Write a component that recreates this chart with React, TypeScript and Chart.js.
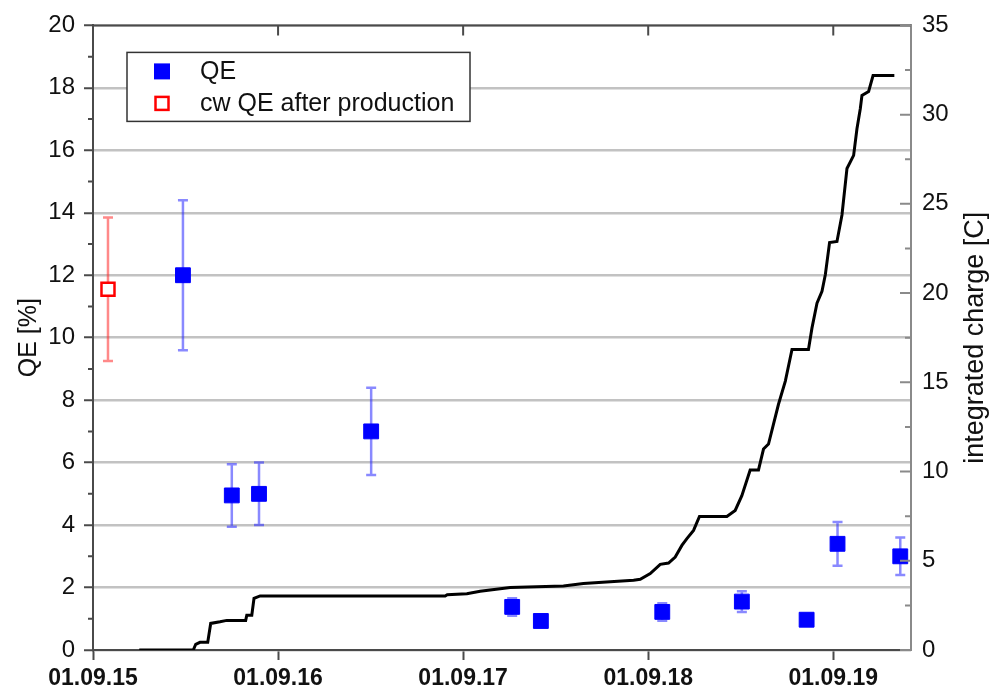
import { useEffect, useRef } from 'react';
import { Chart, registerables } from 'chart.js';

Chart.register(...registerables);

// Date axis: values are years after 01.09.2015
const xTickLabels = ['01.09.15', '01.09.16', '01.09.17', '01.09.18', '01.09.19'];
const xMax = 4.42;

// Quantum efficiency measurements [%] with uncertainties
const qeTime = [0.486, 0.75, 0.897, 1.503, 2.265, 2.42, 3.076, 3.506, 3.856, 4.023, 4.362];
const qeValue = [12.0, 4.95, 5.0, 7.0, 1.38, 0.93, 1.22, 1.55, 0.97, 3.4, 3.0];
const qeError = [2.4, 1.0, 1.0, 1.4, 0.28, 0.1, 0.28, 0.33, 0.1, 0.7, 0.6];

// cw QE measured right after cathode production
const cwTime = [0.081];
const cwValue = [11.55];
const cwError = [2.3];

// Integrated extracted charge [C]
const chargeTime = [
  0.25, 0.542, 0.555, 0.578, 0.62, 0.636, 0.686, 0.723, 0.825, 0.831,
  0.858, 0.87, 0.903, 1.903, 1.914, 2.02, 2.092, 2.254, 2.542, 2.65,
  2.795, 2.921, 2.957, 3.011, 3.065, 3.11, 3.146, 3.182, 3.209, 3.245,
  3.277, 3.425, 3.47, 3.506, 3.551, 3.596, 3.623, 3.65, 3.677, 3.704,
  3.741, 3.777, 3.866, 3.885, 3.912, 3.939, 3.957, 3.98, 4.02, 4.047,
  4.074, 4.11, 4.128, 4.146, 4.155, 4.191, 4.215, 4.33,
];
const chargeValue = [
  0, 0, 0.32, 0.43, 0.43, 1.49, 1.58, 1.66, 1.66, 1.95,
  1.95, 2.89, 3.03, 3.03, 3.1, 3.15, 3.29, 3.5, 3.59, 3.72,
  3.83, 3.91, 3.96, 4.28, 4.8, 4.87, 5.21, 5.86, 6.24, 6.7,
  7.48, 7.48, 7.82, 8.65, 10.09, 10.09, 11.26, 11.54, 12.66, 13.77,
  15.07, 16.84, 16.84, 18.05, 19.44, 20.1, 21.03, 22.83, 22.89, 24.38,
  26.98, 27.72, 29.21, 30.33, 31.08, 31.3, 32.19, 32.19,
];

const FONT = "'Liberation Sans', Arial, Helvetica, sans-serif";
const AXIS_DARK = '#4a4a4a';
const AXIS_GRAY = '#8a8a8a';

const toPoints = (xs: number[], ys: number[]) => xs.map((x, i) => ({ x, y: ys[i] }));

// Vertical error bars with caps, drawn under the markers
const errorBarPlugin = {
  id: 'errorBars',
  beforeDatasetsDraw(chart: any) {
    const { ctx } = chart;
    chart.data.datasets.forEach((ds: any, i: number) => {
      if (!ds.errors) return;
      const meta = chart.getDatasetMeta(i);
      const xs = chart.scales[meta.xAxisID];
      const ys = chart.scales[meta.yAxisID];
      ctx.save();
      ctx.strokeStyle = ds.errorColor;
      ctx.lineWidth = 2.5;
      ds.data.forEach((p: any, j: number) => {
        const e = ds.errors[j];
        const x = xs.getPixelForValue(p.x);
        const yHi = ys.getPixelForValue(p.y + e);
        const yLo = ys.getPixelForValue(p.y - e);
        ctx.beginPath();
        ctx.moveTo(x, yHi);
        ctx.lineTo(x, yLo);
        ctx.moveTo(x - 5, yHi);
        ctx.lineTo(x + 5, yHi);
        ctx.moveTo(x - 5, yLo);
        ctx.lineTo(x + 5, yLo);
        ctx.stroke();
      });
      ctx.restore();
    });
  },
};

// Frame details: top border, inward/minor ticks, right-hand title, boxed legend
const framePlugin = {
  id: 'frame',
  afterDraw(chart: any) {
    const { ctx, chartArea } = chart;
    const { left, right, top, bottom } = chartArea;
    const x = chart.scales.x;
    const y = chart.scales.y;
    const y2 = chart.scales.y2;
    ctx.save();
    ctx.lineCap = 'butt';

    // top border with inward date ticks
    ctx.strokeStyle = AXIS_DARK;
    ctx.lineWidth = 2;
    ctx.beginPath();
    ctx.moveTo(left, top);
    ctx.lineTo(right, top);
    for (let i = 1; i < xTickLabels.length; i++) {
      const px = x.getPixelForValue(i);
      ctx.moveTo(px, top);
      ctx.lineTo(px, top + 10);
    }
    ctx.stroke();

    // minor ticks on the QE axis (outward)
    ctx.beginPath();
    for (let v = 1; v < 20; v += 2) {
      const py = y.getPixelForValue(v);
      ctx.moveTo(left, py);
      ctx.lineTo(left - 5, py);
    }
    ctx.stroke();

    // inward ticks on the charge axis
    ctx.strokeStyle = AXIS_GRAY;
    ctx.beginPath();
    for (let v = 0; v <= 35; v += 2.5) {
      const py = y2.getPixelForValue(v);
      const len = v % 5 === 0 ? 11 : 6;
      ctx.moveTo(right, py);
      ctx.lineTo(right - len, py);
    }
    ctx.stroke();

    // right-hand axis title, reading upwards
    ctx.translate(976, (top + bottom) / 2);
    ctx.rotate(-Math.PI / 2);
    ctx.fillStyle = '#111';
    ctx.font = `27px ${FONT}`;
    ctx.textAlign = 'center';
    ctx.textBaseline = 'middle';
    ctx.fillText('integrated charge [C]', 0, 0);
    ctx.restore();

    // legend box
    ctx.save();
    const lx = left + 34;
    const ly = top + 27;
    const lw = 343;
    const lh = 69;
    ctx.fillStyle = '#fff';
    ctx.fillRect(lx, ly, lw, lh);
    ctx.strokeStyle = '#333';
    ctx.lineWidth = 1.5;
    ctx.strokeRect(lx, ly, lw, lh);
    const items = chart.data.datasets.filter((d: any) => d.inLegend);
    items.forEach((ds: any, i: number) => {
      const cy = ly + 19 + i * 32;
      const cx = lx + 35;
      if (ds.backgroundColor === '#ffffff') {
        ctx.fillStyle = '#fff';
        ctx.fillRect(cx - 7, cy - 7, 14, 14);
        ctx.strokeStyle = ds.borderColor;
        ctx.lineWidth = 2.5;
        ctx.strokeRect(cx - 6.5, cy - 6.5, 13, 13);
      } else {
        ctx.fillStyle = ds.backgroundColor;
        ctx.fillRect(cx - 8, cy - 8, 16, 16);
      }
      ctx.fillStyle = '#111';
      ctx.font = `25px ${FONT}`;
      ctx.textAlign = 'left';
      ctx.textBaseline = 'middle';
      ctx.fillText(ds.label, lx + 73, cy + 1);
    });
    ctx.restore();
  },
};

export default function App() {
  const canvasRef = useRef<HTMLCanvasElement | null>(null);

  useEffect(() => {
    const canvas = canvasRef.current;
    if (!canvas) return;

    const chart = new Chart(canvas, {
      type: 'scatter',
      data: {
        datasets: [
          {
            label: 'QE',
            data: toPoints(qeTime, qeValue),
            errors: qeError,
            errorColor: 'rgba(40, 40, 255, 0.55)',
            inLegend: true,
            backgroundColor: '#0000ff',
            borderColor: '#0000ff',
            borderWidth: 1,
            pointStyle: 'rect',
            pointRadius: 10.5,
            yAxisID: 'y',
          } as any,
          {
            label: 'cw QE after production',
            data: toPoints(cwTime, cwValue),
            errors: cwError,
            errorColor: 'rgba(255, 40, 40, 0.55)',
            inLegend: true,
            backgroundColor: '#ffffff',
            borderColor: '#ff0000',
            borderWidth: 2.5,
            pointStyle: 'rect',
            pointRadius: 9.2,
            yAxisID: 'y',
          } as any,
          {
            label: 'integrated charge',
            data: toPoints(chargeTime, chargeValue),
            showLine: true,
            borderColor: '#000000',
            backgroundColor: '#000000',
            borderWidth: 3,
            pointRadius: 0,
            tension: 0,
            fill: false,
            yAxisID: 'y2',
          },
        ],
      },
      options: {
        responsive: false,
        animation: false,
        devicePixelRatio: 1,
        layout: { padding: { top: 23, left: 0, right: 0, bottom: 0 } },
        plugins: {
          legend: { display: false },
          tooltip: { enabled: false },
        },
        scales: {
          x: {
            type: 'linear',
            position: 'bottom',
            min: 0,
            max: xMax,
            afterBuildTicks: (scale: any) => {
              scale.ticks = xTickLabels.map((_, i) => ({ value: i }));
            },
            afterFit: (scale: any) => {
              scale.height = 41;
            },
            ticks: {
              callback: (v: any) => xTickLabels[Math.round(Number(v))],
              font: { family: FONT, size: 23, weight: 'bold' },
              color: '#111',
              padding: 5,
              maxRotation: 0,
              autoSkip: false,
            },
            grid: {
              drawOnChartArea: false,
              drawTicks: true,
              tickLength: 10,
              tickColor: AXIS_DARK,
              tickWidth: 2,
            },
            border: { color: AXIS_DARK, width: 2 },
          },
          y: {
            type: 'linear',
            position: 'left',
            min: 0,
            max: 20,
            afterFit: (scale: any) => {
              scale.width = 93;
            },
            ticks: {
              stepSize: 2,
              font: { family: FONT, size: 24 },
              color: '#111',
              padding: 9,
            },
            grid: {
              color: '#c2c2c2',
              lineWidth: 2.5,
              drawTicks: true,
              tickLength: 9,
              tickColor: AXIS_DARK,
              tickWidth: 2,
            },
            border: { color: AXIS_DARK, width: 2 },
            title: {
              display: true,
              text: 'QE [%]',
              font: { family: FONT, size: 25 },
              color: '#111',
              padding: { top: 14, bottom: 0 },
            },
          },
          y2: {
            type: 'linear',
            position: 'right',
            min: 0,
            max: 35,
            afterFit: (scale: any) => {
              scale.width = 85;
            },
            ticks: {
              stepSize: 5,
              font: { family: FONT, size: 24 },
              color: '#111',
              padding: 11,
            },
            grid: { drawOnChartArea: false, drawTicks: false },
            border: { color: AXIS_GRAY, width: 2 },
          },
        },
      } as any,
      plugins: [errorBarPlugin, framePlugin],
    });

    return () => chart.destroy();
  }, []);

  return (
    <div style={{ position: 'fixed', left: 0, top: 0, width: 996, height: 691, background: '#fff' }}>
      <canvas ref={canvasRef} width={996} height={691} style={{ display: 'block' }} />
    </div>
  );
}
